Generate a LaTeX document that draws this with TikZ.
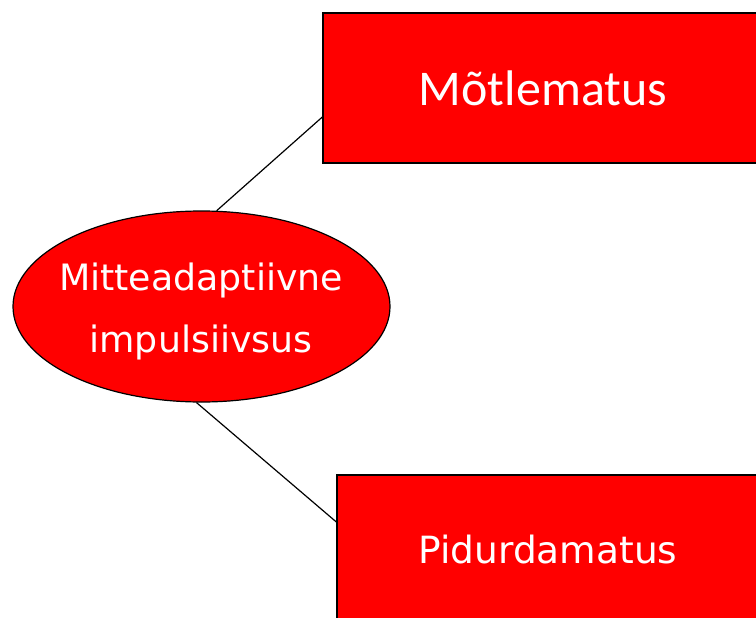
\documentclass[tikz,border=0pt]{standalone}
\usepackage{fontspec}
\setmainfont{DejaVu Sans}
\newfontfamily\carl{Carlito}
\usetikzlibrary{shapes.geometric}
\definecolor{boxred}{RGB}{255,0,0}
\begin{document}
\begin{tikzpicture}[x=1pt,y=-1pt,
  redbox/.style={draw=black,line width=1.3pt,fill=boxred,rectangle,inner sep=0pt},
  redell/.style={draw=black,line width=1.2pt,fill=boxred,ellipse,inner sep=0pt,minimum width=377pt,minimum height=191pt},
  lbl/.style={text=white,inner sep=0pt},
  conn/.style={draw=black,line width=1.2pt}]
\useasboundingbox (0,0) rectangle (756,618);
\clip (0,0) rectangle (756,618);
\node[redbox,minimum width=440pt,minimum height=150pt] (top) at (543,88) {};
\node[lbl,font=\carl\fontsize{50}{60}\selectfont] (toptext) at (543,88) {Mõtlematus};
\node[redbox,minimum width=422pt,minimum height=200pt] (bot) at (548,575) {};
\node[lbl,font=\fontsize{37.5}{46}\selectfont,anchor=base] (bottext) at (548,563) {Pidurdamatus};
\node[redell] (ell) at (201.5,306.5) {};
\node[lbl,font=\fontsize{36.3}{44}\selectfont,anchor=base] (ell1) at (201,290) {Mitteadaptiivne};
\node[lbl,font=\fontsize{36.3}{44}\selectfont,anchor=base] (ell2) at (201,352) {impulsiivsus};
\draw[conn] (ell.81) -- ([yshift=-29pt]top.west);
\draw[conn] (ell.267) -- ([yshift=53pt]bot.west);
\end{tikzpicture}
\end{document}
